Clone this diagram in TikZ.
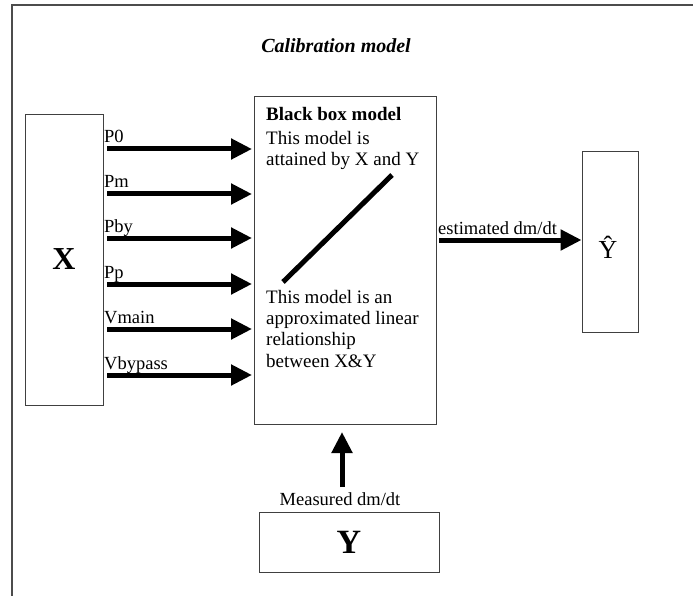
\documentclass[tikz,border=0pt]{standalone}
\usepackage{fontspec}
\setmainfont{Liberation Serif}
\usetikzlibrary{arrows.meta}
\begin{document}
\begin{tikzpicture}[x=1pt,y=-1pt,
  box/.style={draw=black!75,line width=0.9pt,inner sep=0pt},
  fat/.style={line width=5pt,-{Triangle[length=21pt,width=20pt]}},
  lbl/.style={font=\fontsize{18.5}{20}\selectfont,inner sep=0pt,anchor=base west},
  txt/.style={font=\fontsize{19}{21}\selectfont,inner sep=0pt,anchor=base west}]
\useasboundingbox (0,0) rectangle (693,596);
\draw[black!70,line width=1.2pt] (12,596) -- (12,5) -- (693,5);
\node[font=\bfseries\itshape\fontsize{20}{22}\selectfont,inner sep=0pt,anchor=base] (title) at (336,53) {Calibration model};
% boxes
\node[box,minimum width=78pt,minimum height=291pt] (X) at (64,259.5) {};
\node[font=\bfseries\fontsize{32}{34}\selectfont] (Xl) at (X.center) {X};
\node[box,minimum width=182pt,minimum height=328pt] (B) at (345,260) {};
\node[box,minimum width=56pt,minimum height=181pt] (Yh) at (610,241.5) {};
\node[font=\fontsize{26}{28}\selectfont,inner sep=0pt,anchor=base] (Yhl) at (608,258) {Ŷ};
\node[box,minimum width=180pt,minimum height=60pt] (Y) at (349,542) {};
\node[font=\bfseries\fontsize{34}{36}\selectfont] (Yl) at (Y.center) {Y};
% black box text
\node[txt] (t1) at (266,121) {\textbf{Black box model}};
\node[txt] (t2) at (266,145) {This model is};
\node[txt] (t3) at (266,166) {attained by X and Y};
\node[txt] (t4) at (266,303) {This model is an};
\node[txt] (t5) at (266,324) {approximated linear};
\node[txt] (t6) at (266,345) {relationship};
\node[txt] (t7) at (266,367) {between X\&Y};
\coordinate (d1) at (283,282);
\coordinate (d2) at (392,175);
\draw[line width=5pt] (d1) -- (d2);
% input arrows
\foreach \y/\n/\t in {149/a/P0,194/b/Pm,238/c/Pby,284/d/Pp,329/e/Vmain,375/f/Vbypass}{
  \coordinate (s\n) at (107,\y);
  \coordinate (e\n) at (252,\y);
  \draw[fat] (s\n) -- (e\n);
  \node[lbl] (l\n) at (104,\y-6) {\t};
}
% output arrow
\coordinate (o1) at (439,240);
\coordinate (o2) at (Yh.west |- o1);
\draw[fat] (o1) -- (o2);
\node[lbl] (lo) at (438,234) {estimated dm/dt};
% measured arrow
\coordinate (m1) at (342,487);
\coordinate (m2) at (342,432);
\draw[fat] (m1) -- (m2);
\node[font=\fontsize{18.5}{20}\selectfont,inner sep=0pt,anchor=base] (lm) at (340,505) {Measured dm/dt};
\end{tikzpicture}
\end{document}
